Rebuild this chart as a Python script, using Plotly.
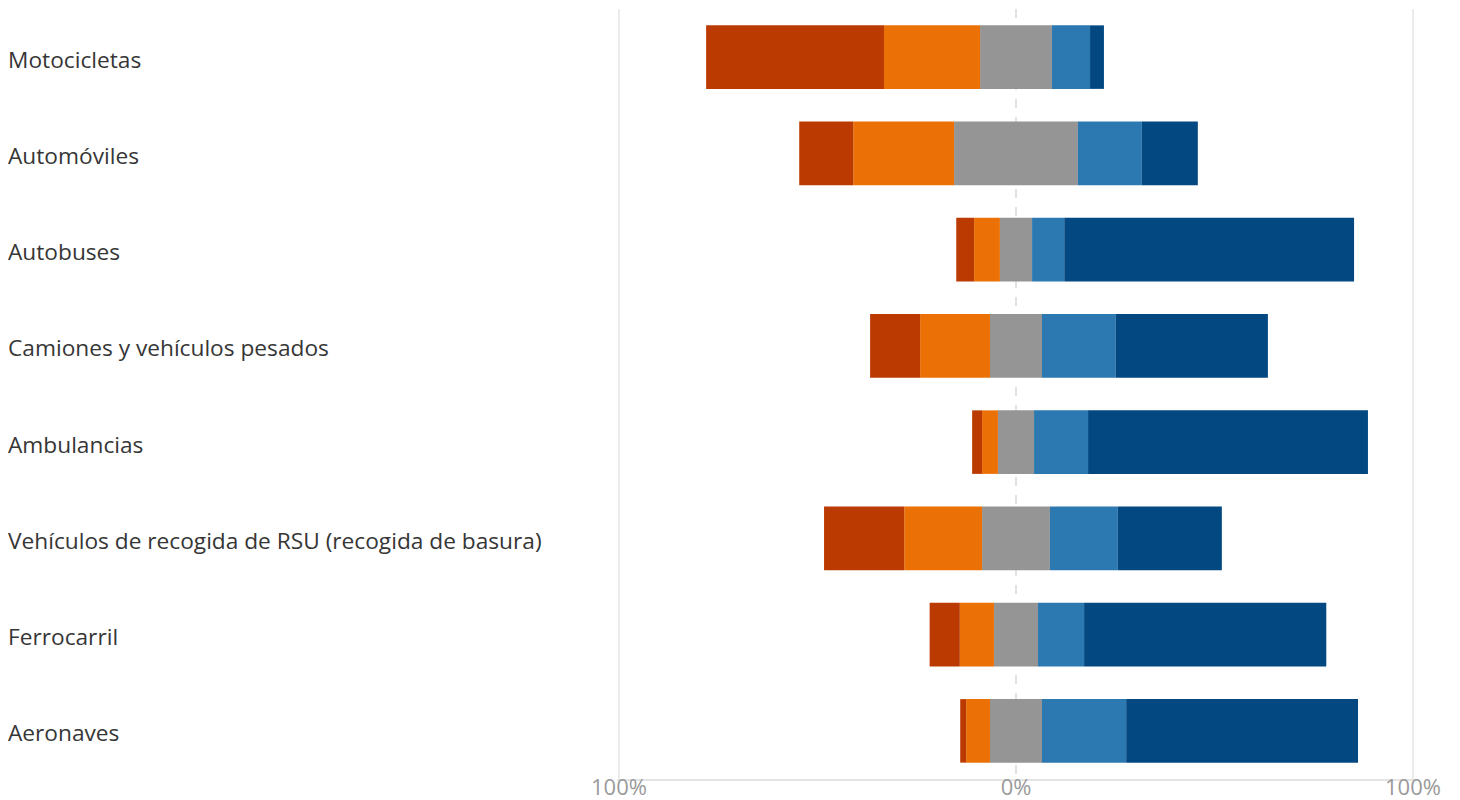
import plotly.graph_objects as go

categories = [
    "Motocicletas",
    "Automóviles",
    "Autobuses",
    "Camiones y vehículos pesados",
    "Ambulancias",
    "Vehículos de recogida de RSU (recogida de basura)",
    "Ferrocarril",
    "Aeronaves",
]
# percentages per response level (negative side -> positive side)
muy_negativo = [44.8, 13.6, 4.5, 12.6, 2.5, 20.2, 7.6, 1.5]
negativo     = [24.2, 25.4, 6.5, 17.6, 4.0, 19.6, 8.6, 6.0]
neutral      = [18.1, 31.2, 8.1, 13.1, 9.1, 17.1, 11.1, 13.1]
positivo     = [9.6, 16.1, 8.1, 18.6, 13.6, 17.1, 11.6, 21.2]
muy_positivo = [3.5, 14.1, 73.0, 38.3, 70.5, 26.2, 61.0, 58.4]

tick_vals = [-100, 0, 100]
tick_text = ["100%", "0%", "100%"]

c_dr = "#BA3A02"
c_or = "#EB7107"
c_gr = "#959595"
c_bl = "#2B79B0"
c_db = "#034881"

fig = go.Figure()
W = 0.66
def add(vals, color, sign=1, half=False):
    x = [sign * (v / 2 if half else v) for v in vals]
    fig.add_trace(go.Bar(y=categories, x=x, orientation="h", width=W,
                         marker=dict(color=color, line=dict(width=0)),
                         showlegend=False, hoverinfo="skip"))

add(neutral, c_gr, -1, True)
add(negativo, c_or, -1)
add(muy_negativo, c_dr, -1)
add(neutral, c_gr, 1, True)
add(positivo, c_bl, 1)
add(muy_positivo, c_db, 1)

# invisible trace to anchor the dashed zero grid axis
fig.add_trace(go.Scatter(x=[0], y=[categories[0]], xaxis="x2", mode="markers",
                         marker=dict(opacity=0), showlegend=False, hoverinfo="skip"))

XR = [-100.5, 100.5]
FW, FH = 1452, 792
L, R, T, B = 609, 45, 1, 21
PW = FW - L - R
for c in categories:
    fig.add_annotation(xref="paper", yref="y", x=(-2 - L) / PW, y=c, text=c,
                       xanchor="left", yanchor="middle", showarrow=False, yshift=-2,
                       font=dict(family="Open Sans", size=22.7, color="#363636"))

fig.update_layout(
    width=FW, height=FH,
    margin=dict(l=L, r=R, t=T, b=B, autoexpand=False),
    paper_bgcolor="white", plot_bgcolor="white",
    barmode="relative", bargap=0.34,
    font=dict(family="Open Sans"),
    xaxis=dict(range=XR, tickvals=tick_vals, ticktext=tick_text,
               showgrid=False, zeroline=False, showline=True, linecolor="#e4e4e4",
               linewidth=2, ticks="", tickfont=dict(size=22, color="#9a9a9a"),
               automargin=False, ticklabelstandoff=-12,
               minor=dict(tickvals=[-100, 100], showgrid=True, gridcolor="#ebebeb", gridwidth=2, ticks=""),
               fixedrange=True),
    xaxis2=dict(overlaying="x", matches="x", range=XR, tickvals=[0], showticklabels=False,
                showgrid=True, griddash="dash", gridcolor="#e2e2e2", gridwidth=2,
                zeroline=False, showline=False, ticks="", side="bottom", automargin=False),
    yaxis=dict(autorange=False, range=[7.5, -0.5], showticklabels=False, showgrid=False,
               zeroline=False, showline=False, ticks="", automargin=False),
)
fig.write_html("out.html")
